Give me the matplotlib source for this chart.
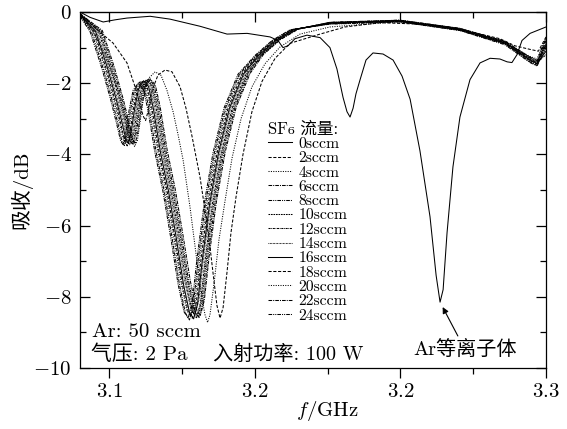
import matplotlib
matplotlib.use("Agg")
import matplotlib.pyplot as plt
from matplotlib.ticker import FixedLocator, MultipleLocator, FuncFormatter

plt.rcParams['font.family'] = ['cmr10', 'Noto Sans CJK SC', 'DejaVu Serif']
plt.rcParams['mathtext.fontset'] = 'cm'
plt.rcParams['axes.unicode_minus'] = False

# absorption spectra, f in GHz, absorption in dB
# 0 sccm SF6 (pure Ar plasma)
f_0 = [3.0867, 3.0913, 3.0973, 3.1027, 3.1082, 3.1188, 3.1279, 3.1416, 3.1540, 3.1632,
       3.1737, 3.1773, 3.1796, 3.1819, 3.1851, 3.1906, 3.1966, 3.2011, 3.2043, 3.2071,
       3.2089, 3.2103, 3.2117, 3.2130, 3.2149, 3.2176, 3.2208, 3.2254, 3.2300, 3.2341,
       3.2378, 3.2423, 3.2469, 3.2497, 3.2515, 3.2529, 3.2547, 3.2574, 3.2606, 3.2652,
       3.2698, 3.2744, 3.2789, 3.2822, 3.2844, 3.2867, 3.2890, 3.2927, 3.3000]
db_0 = [0.0, -0.15, -0.28, -0.22, -0.17, -0.12, -0.2, -0.4, -0.62, -0.6,
        -0.7, -0.8, -1.0, -0.95, -0.75, -0.65, -0.72, -1.0, -1.6, -2.4,
        -2.8, -2.95, -2.7, -2.3, -1.9, -1.35, -1.15, -1.18, -1.35, -1.8,
        -2.45, -3.9, -5.75, -7.4, -8.15, -7.8, -6.2, -4.35, -2.95, -1.9,
        -1.43, -1.3, -1.32, -1.4, -1.42, -1.2, -0.8, -0.6, -0.42]

f_2 = [3.0867, 3.0936, 3.1018, 3.1082, 3.1119, 3.1142, 3.1156, 3.1167, 3.1178, 3.1197,
       3.1224, 3.1256, 3.1288, 3.1325, 3.1352, 3.1380, 3.1416, 3.1439, 3.1462, 3.1481,
       3.1494, 3.1508, 3.1522, 3.1540, 3.1558, 3.1581, 3.1613, 3.1654, 3.1700, 3.1760,
       3.1828, 3.1966, 3.2080, 3.2240, 3.2469, 3.2652, 3.2789, 3.2858, 3.2927, 3.2965,
       3.3000]
db_2 = [-0.03, -0.45, -0.87, -1.43, -2.1, -2.6, -2.92, -3.05, -2.8, -2.2,
        -1.77, -1.63, -1.68, -2.1, -2.7, -3.5, -4.63, -5.56, -6.6, -7.6,
        -8.25, -8.6, -8.3, -7.3, -6.2, -5.2, -4.0, -2.8, -1.95, -1.3,
        -0.88, -0.62, -0.42, -0.3, -0.35, -0.55, -0.75, -0.95, -1.05, -1.1,
        -0.7]

f_4 = [3.0867, 3.0922, 3.0982, 3.1041, 3.1078, 3.1101, 3.1117, 3.1130, 3.1144, 3.1160,
       3.1183, 3.1211, 3.1238, 3.1265, 3.1293, 3.1316, 3.1339, 3.1371, 3.1398, 3.1421,
       3.1439, 3.1451, 3.1462, 3.1481, 3.1503, 3.1531, 3.1563, 3.1604, 3.1654, 3.1714,
       3.1783, 3.1874, 3.2011, 3.2332, 3.2606, 3.2812, 3.2927, 3.2959, 3.3000]
db_4 = [-0.05, -0.5, -1.2, -2.2, -3.0, -3.55, -3.78, -3.6, -3.0, -2.3,
        -1.85, -1.68, -1.78, -2.2, -2.8, -3.45, -4.16, -5.5, -6.8, -7.9,
        -8.5, -8.72, -8.5, -7.6, -6.4, -5.3, -4.1, -3.0, -2.1, -1.45,
        -0.98, -0.62, -0.42, -0.27, -0.52, -0.88, -1.25, -1.32, -0.72]

f_6 = [3.0867, 3.0969, 3.1024, 3.1065, 3.1093, 3.1109, 3.1120, 3.1132, 3.1148, 3.1166,
       3.1189, 3.1212, 3.1234, 3.1266, 3.1303, 3.1340, 3.1372, 3.1399, 3.1418, 3.1436,
       3.1459, 3.1491, 3.1532, 3.1582, 3.1646, 3.1707, 3.1785, 3.1867, 3.2011, 3.2332,
       3.2606, 3.2812, 3.2927, 3.2959, 3.3000]
db_6 = [-0.05, -0.52, -1.55, -2.45, -3.16, -3.59, -3.7, -3.37, -2.7, -2.12,
        -1.88, -2.06, -2.67, -3.88, -4.98, -6.33, -7.56, -8.34, -8.52, -8.1,
        -6.82, -5.34, -3.92, -2.67, -1.72, -1.19, -0.77, -0.48, -0.29, -0.23,
        -0.46, -0.82, -1.27, -1.36, -0.75]

f_8 = [3.0867, 3.0963, 3.1018, 3.1059, 3.1087, 3.1103, 3.1114, 3.1126, 3.1142, 3.1160,
       3.1183, 3.1206, 3.1228, 3.1260, 3.1297, 3.1334, 3.1366, 3.1393, 3.1412, 3.1430,
       3.1453, 3.1485, 3.1526, 3.1576, 3.1640, 3.1703, 3.1781, 3.1863, 3.2011, 3.2332,
       3.2606, 3.2812, 3.2927, 3.2959, 3.3000]
db_8 = [-0.06, -0.52, -1.55, -2.45, -3.15, -3.56, -3.66, -3.35, -2.69, -2.12,
        -1.88, -2.06, -2.68, -3.9, -5.01, -6.37, -7.62, -8.4, -8.58, -8.16,
        -6.86, -5.37, -3.93, -2.68, -1.72, -1.19, -0.78, -0.48, -0.29, -0.23,
        -0.46, -0.83, -1.28, -1.38, -1.0]

f_10 = [3.0867, 3.0957, 3.1012, 3.1053, 3.1081, 3.1097, 3.1108, 3.1120, 3.1136, 3.1154,
        3.1177, 3.1200, 3.1222, 3.1254, 3.1291, 3.1328, 3.1360, 3.1387, 3.1406, 3.1424,
        3.1447, 3.1479, 3.1520, 3.1570, 3.1634, 3.1699, 3.1777, 3.1859, 3.2011, 3.2332,
        3.2606, 3.2812, 3.2927, 3.2959, 3.3000]
db_10 = [-0.06, -0.53, -1.56, -2.46, -3.17, -3.61, -3.72, -3.38, -2.71, -2.14,
         -1.9, -2.08, -2.69, -3.9, -5.0, -6.36, -7.6, -8.38, -8.55, -8.14,
         -6.85, -5.36, -3.93, -2.68, -1.73, -1.2, -0.78, -0.48, -0.3, -0.24,
         -0.47, -0.84, -1.3, -1.4, -0.9]

f_12 = [3.0867, 3.0951, 3.1006, 3.1047, 3.1075, 3.1091, 3.1102, 3.1114, 3.1130, 3.1148,
        3.1171, 3.1194, 3.1216, 3.1248, 3.1285, 3.1322, 3.1354, 3.1381, 3.1400, 3.1418,
        3.1441, 3.1473, 3.1514, 3.1564, 3.1628, 3.1695, 3.1773, 3.1855, 3.2011, 3.2332,
        3.2606, 3.2812, 3.2927, 3.2959, 3.3000]
db_12 = [-0.07, -0.53, -1.56, -2.46, -3.16, -3.58, -3.68, -3.36, -2.7, -2.14,
         -1.9, -2.08, -2.7, -3.92, -5.03, -6.38, -7.64, -8.42, -8.6, -8.18,
         -6.88, -5.38, -3.94, -2.69, -1.73, -1.2, -0.78, -0.49, -0.3, -0.24,
         -0.48, -0.85, -1.32, -1.42, -1.2]

f_14 = [3.0867, 3.0944, 3.0999, 3.1040, 3.1068, 3.1084, 3.1095, 3.1107, 3.1123, 3.1141,
        3.1164, 3.1187, 3.1209, 3.1241, 3.1278, 3.1315, 3.1347, 3.1374, 3.1393, 3.1411,
        3.1434, 3.1466, 3.1507, 3.1557, 3.1621, 3.1690, 3.1768, 3.1850, 3.2011, 3.2332,
        3.2606, 3.2812, 3.2927, 3.2959, 3.3000]
db_14 = [-0.08, -0.54, -1.58, -2.48, -3.18, -3.62, -3.73, -3.4, -2.73, -2.16,
         -1.93, -2.1, -2.7, -3.9, -5.0, -6.35, -7.58, -8.34, -8.5, -8.1,
         -6.82, -5.35, -3.92, -2.68, -1.73, -1.2, -0.79, -0.49, -0.31, -0.25,
         -0.48, -0.86, -1.33, -1.43, -0.85]

f_16 = [3.0867, 3.0938, 3.0993, 3.1034, 3.1062, 3.1078, 3.1089, 3.1101, 3.1117, 3.1135,
        3.1158, 3.1181, 3.1203, 3.1235, 3.1272, 3.1309, 3.1341, 3.1368, 3.1387, 3.1405,
        3.1428, 3.1460, 3.1501, 3.1551, 3.1615, 3.1686, 3.1764, 3.1846, 3.2011, 3.2332,
        3.2606, 3.2812, 3.2927, 3.2959, 3.3000]
db_16 = [-0.08, -0.54, -1.58, -2.48, -3.18, -3.6, -3.7, -3.38, -2.72, -2.16,
         -1.93, -2.1, -2.72, -3.93, -5.03, -6.4, -7.66, -8.44, -8.62, -8.2,
         -6.9, -5.4, -3.95, -2.7, -1.74, -1.21, -0.79, -0.49, -0.31, -0.25,
         -0.49, -0.87, -1.35, -1.45, -1.1]

f_18 = [3.0867, 3.0932, 3.0987, 3.1028, 3.1056, 3.1072, 3.1083, 3.1095, 3.1111, 3.1129,
        3.1152, 3.1175, 3.1197, 3.1229, 3.1266, 3.1303, 3.1335, 3.1362, 3.1381, 3.1399,
        3.1422, 3.1454, 3.1495, 3.1545, 3.1609, 3.1681, 3.1759, 3.1841, 3.2011, 3.2332,
        3.2606, 3.2812, 3.2927, 3.2959, 3.3000]
db_18 = [-0.09, -0.55, -1.6, -2.5, -3.2, -3.64, -3.76, -3.42, -2.74, -2.18,
         -1.95, -2.12, -2.73, -3.94, -5.04, -6.4, -7.64, -8.42, -8.6, -8.18,
         -6.88, -5.38, -3.94, -2.69, -1.74, -1.21, -0.79, -0.5, -0.32, -0.26,
         -0.5, -0.88, -1.36, -1.46, -0.8]

f_20 = [3.0867, 3.0926, 3.0981, 3.1022, 3.1050, 3.1066, 3.1077, 3.1089, 3.1105, 3.1123,
        3.1146, 3.1169, 3.1191, 3.1223, 3.1260, 3.1297, 3.1329, 3.1356, 3.1375, 3.1393,
        3.1416, 3.1448, 3.1489, 3.1539, 3.1603, 3.1677, 3.1755, 3.1837, 3.2011, 3.2332,
        3.2606, 3.2812, 3.2927, 3.2959, 3.3000]
db_20 = [-0.1, -0.54, -1.58, -2.48, -3.18, -3.6, -3.7, -3.38, -2.73, -2.18,
         -1.95, -2.12, -2.72, -3.92, -5.02, -6.37, -7.6, -8.38, -8.55, -8.15,
         -6.85, -5.37, -3.93, -2.68, -1.74, -1.21, -0.8, -0.5, -0.33, -0.26,
         -0.5, -0.89, -1.38, -1.48, -1.05]

f_22 = [3.0867, 3.0919, 3.0974, 3.1015, 3.1043, 3.1059, 3.1070, 3.1082, 3.1098, 3.1116,
        3.1139, 3.1162, 3.1184, 3.1216, 3.1253, 3.1290, 3.1322, 3.1349, 3.1368, 3.1386,
        3.1409, 3.1441, 3.1482, 3.1532, 3.1596, 3.1672, 3.1750, 3.1832, 3.2011, 3.2332,
        3.2606, 3.2812, 3.2927, 3.2959, 3.3000]
db_22 = [-0.1, -0.55, -1.6, -2.5, -3.2, -3.64, -3.75, -3.42, -2.75, -2.2,
         -1.97, -2.13, -2.75, -3.95, -5.05, -6.4, -7.65, -8.45, -8.65, -8.22,
         -6.9, -5.4, -3.95, -2.7, -1.75, -1.22, -0.8, -0.5, -0.33, -0.27,
         -0.51, -0.9, -1.4, -1.5, -0.9]

f_24 = [3.0867, 3.0913, 3.0968, 3.1009, 3.1037, 3.1053, 3.1064, 3.1076, 3.1092, 3.1110,
        3.1133, 3.1156, 3.1178, 3.1210, 3.1247, 3.1284, 3.1316, 3.1343, 3.1362, 3.1380,
        3.1403, 3.1435, 3.1476, 3.1526, 3.1590, 3.1668, 3.1746, 3.1828, 3.2011, 3.2332,
        3.2606, 3.2812, 3.2927, 3.2959, 3.3000]
db_24 = [-0.12, -0.55, -1.6, -2.5, -3.2, -3.62, -3.72, -3.4, -2.75, -2.2,
         -2.0, -2.15, -2.75, -3.95, -5.05, -6.4, -7.65, -8.42, -8.6, -8.2,
         -6.9, -5.4, -3.95, -2.7, -1.75, -1.22, -0.8, -0.5, -0.34, -0.28,
         -0.52, -0.92, -1.42, -1.52, -0.95]

flows = [0, 2, 4, 6, 8, 10, 12, 14, 16, 18, 20, 22, 24]
freqs = [f_0, f_2, f_4, f_6, f_8, f_10, f_12, f_14, f_16, f_18, f_20, f_22, f_24]
absorb = [db_0, db_2, db_4, db_6, db_8, db_10, db_12, db_14, db_16, db_18, db_20, db_22, db_24]

x_major = [3.1, 3.1667, 3.2333, 3.3]
x_minor = [3.1333, 3.2, 3.2667]

# Origin-like dash cycle
styles = ['-', (0, (3, 1.6)), (0, (1, 1.3)), (0, (3.5, 1, 1, 1)),
          (0, (3.5, 1, 1, 1, 1, 1)), (0, (1.6, 0.8)), (0, (2, 0.7, 0.7, 0.7)),
          (0, (0.7, 0.7))]

fig = plt.figure(figsize=(5.67, 4.29), dpi=100)
ax = fig.add_axes([0.1411, 0.1422, 0.8219, 0.8298])

for i, (n, f, a) in enumerate(zip(flows, freqs, absorb)):
    ax.plot(f, a, color='k', lw=0.75, ls=styles[i % len(styles)], label=f'{n}sccm')

ax.set_xlim(3.0867, 3.3)
ax.set_ylim(-10, 0)

ax.xaxis.set_major_locator(FixedLocator(x_major))
ax.xaxis.set_minor_locator(FixedLocator(x_minor))
ax.xaxis.set_major_formatter(FuncFormatter(lambda v, p: f'${v:.1f}$'))
ax.yaxis.set_major_locator(MultipleLocator(2))
ax.yaxis.set_minor_locator(MultipleLocator(1))
ax.yaxis.set_major_formatter(FuncFormatter(lambda v, p: f'${v:.0f}$'))

ax.tick_params(axis='x', which='both', direction='out', labelsize=15, pad=4)
ax.tick_params(axis='x', which='major', length=7, width=0.9)
ax.tick_params(axis='x', which='minor', length=4, width=0.9)
ax.tick_params(axis='y', which='both', direction='in', right=True, labelsize=15, pad=6)
ax.tick_params(axis='y', which='major', length=7, width=0.9)
ax.tick_params(axis='y', which='minor', length=4, width=0.9)

# top axis carries inward ticks only
top = ax.secondary_xaxis('top')
top.xaxis.set_major_locator(FixedLocator(x_major))
top.xaxis.set_minor_locator(FixedLocator(x_minor))
top.tick_params(which='both', direction='in', labeltop=False, width=0.9)
top.tick_params(which='major', length=7)
top.tick_params(which='minor', length=4)

for s in ax.spines.values():
    s.set_linewidth(0.9)

ax.set_xlabel('$f$/GHz', fontsize=15)
ax.xaxis.set_label_coords(0.532, -0.088)
ax.set_ylabel('吸收/dB', fontsize=15)
ax.yaxis.set_label_coords(-0.103, 0.5)

leg = ax.legend(loc='upper left', bbox_to_anchor=(0.403, 0.693), frameon=False,
                fontsize=11.3, title='SF₆ 流量:', title_fontsize=12, alignment='left',
                handlelength=1.55, handletextpad=0.4, labelspacing=0.02, borderpad=0,
                borderaxespad=0)

ax.text(0.026, 0.101, 'Ar: 50 sccm', transform=ax.transAxes, fontsize=15, va='center')
ax.text(0.024, 0.039, '气压: 2 Pa', transform=ax.transAxes, fontsize=15, va='center')
ax.text(0.285, 0.039, '入射功率: 100 W', transform=ax.transAxes, fontsize=14.5, va='center')

i_min = db_0.index(min(db_0))
ax.annotate('Ar等离子体', xy=(f_0[i_min], db_0[i_min]), xytext=(3.2629, -9.48),
            ha='center', va='center', fontsize=14.5,
            arrowprops=dict(arrowstyle='-|>', color='k', lw=0.8, mutation_scale=9,
                            shrinkA=1, shrinkB=4))

fig.savefig('out.png', dpi=100)
